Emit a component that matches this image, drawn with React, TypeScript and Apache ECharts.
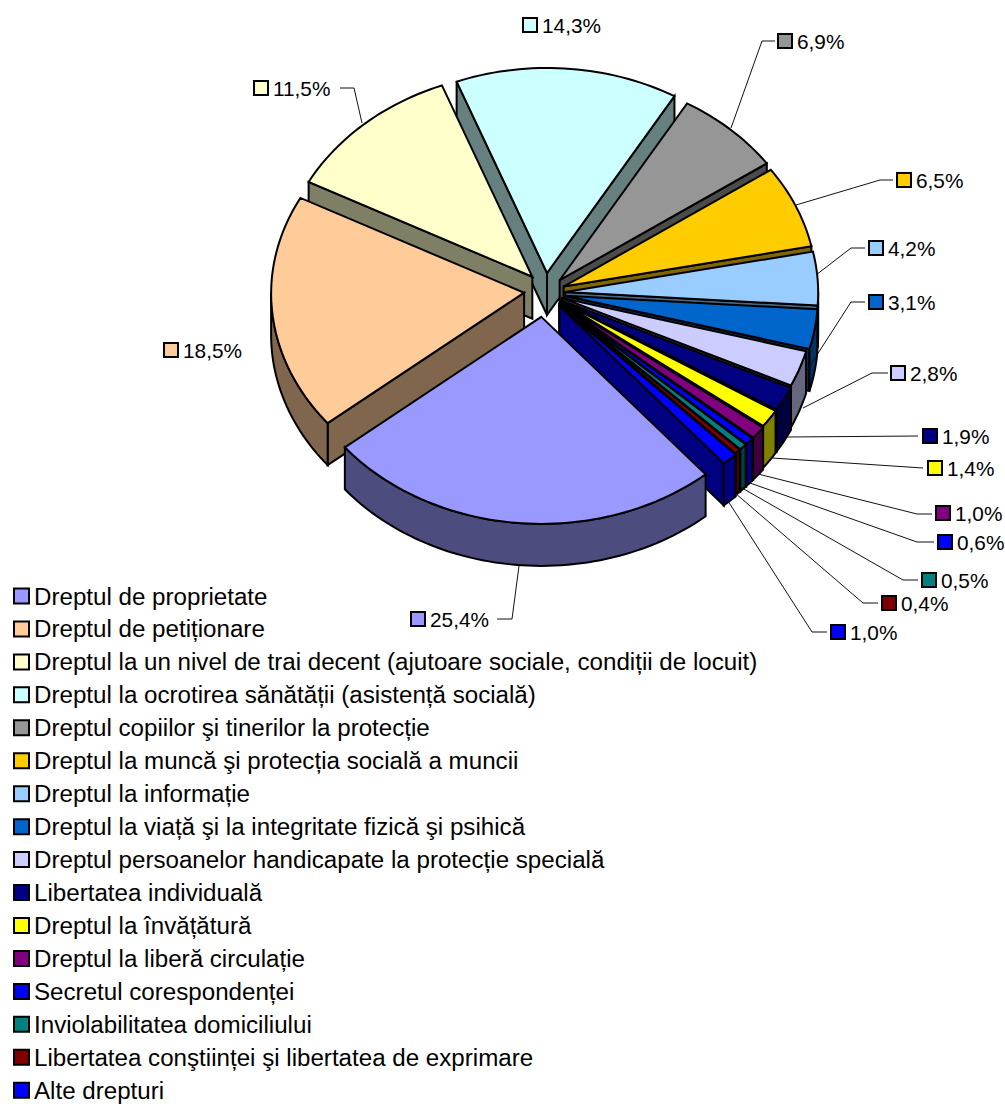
import React, { useEffect, useRef } from "react";
import * as echarts from "echarts";

// ---------- data ----------
const categories = [
  "Dreptul de proprietate",
  "Dreptul de petiționare",
  "Dreptul la un nivel de trai decent (ajutoare sociale, condiții de locuit)",
  "Dreptul la ocrotirea sănătății (asistență socială)",
  "Dreptul copiilor şi tinerilor la protecție",
  "Dreptul la muncă şi protecția socială a muncii",
  "Dreptul la informație",
  "Dreptul la viață şi la integritate fizică şi psihică",
  "Dreptul persoanelor handicapate la protecție specială",
  "Libertatea individuală",
  "Dreptul la învățătură",
  "Dreptul la liberă circulație",
  "Secretul corespondenței",
  "Inviolabilitatea domiciliului",
  "Libertatea conştiinței şi libertatea de exprimare",
  "Alte drepturi",
];
const values = [25.4, 18.5, 11.5, 14.3, 6.9, 6.5, 4.2, 3.1, 2.8, 1.9, 1.4, 1.0, 0.6, 0.5, 0.4, 1.0];

// ---------- styles ----------
const colors = [
  "#9999FF", "#FFCC99", "#FFFFCC", "#CCFFFF", "#969696", "#FFCC00", "#99CCFF", "#0066CC",
  "#CCCCFF", "#000080", "#FFFF00", "#800080", "#0000FF", "#008080", "#800000", "#0000FF",
];
const sideColors = [
  "#4C4C7F", "#7F664C", "#7F7F66", "#667F7F", "#4B4B4B", "#7F6600", "#4C667F", "#003366",
  "#66667F", "#000040", "#7F7F00", "#400040", "#000080", "#004040", "#400000", "#000080",
];

// ---------- pie geometry ----------
const CX = 545, CY = 293, RX = 253, RY_FAR = 205, RY_NEAR = 207, DEPTH = 42, START_ANGLE = 139.5;
const FAR_NARROWING = 0.006;
const explode = [0.117, 0.083, 0.09, 0.098, 0.085, 0.08, 0.08, 0.08, 0.07, 0.075, 0.075, 0.08, 0.08, 0.08, 0.08, 0.085];
const nudgeX = [-1, 0, 2.5, 0, 0, 0, 0, 0, 0, 0, 0, 0, 0, 0, 0, 0];
const nudgeY = [0, -2, -2.5, 0, 0, 0, 0, 0, 0, 0, 0, 0, 0, 0, 0, 0];
// paint order, back to front
const paintOrder = [3, 2, 1, 4, 5, 6, 7, 8, 9, 10, 11, 12, 13, 14, 15, 0];

const rad = (d: number) => (d * Math.PI) / 180;
const total = values.reduce((a, b) => a + b, 0);
const sweeps = values.map((v) => (v / total) * 360);
const starts = sweeps.map((_, i) => START_ANGLE + sweeps.slice(0, i).reduce((a, b) => a + b, 0));

function sliceGeometry(i: number) {
  const a0 = starts[i];
  const a1 = a0 + sweeps[i];
  const mid = (a0 + a1) / 2;
  const ax = CX + nudgeX[i] + explode[i] * RX * Math.sin(rad(mid));
  const ay = CY + nudgeY[i] - explode[i] * RY_FAR * Math.cos(rad(mid));
  const pt = (t: number, dz = 0): number[] => {
    const c = Math.cos(rad(t));
    const narrow = c > 0 ? 1 - FAR_NARROWING * c : 1;
    return [ax + RX * narrow * Math.sin(rad(t)), ay - (c > 0 ? RY_FAR : RY_NEAR) * c + dz];
  };
  return { a0, a1, ax, ay, pt };
}

function arcPoints(pt: (t: number, dz?: number) => number[], a: number, b: number, dz = 0) {
  const n = Math.max(2, Math.ceil((b - a) / 1.5));
  const out: number[][] = [];
  for (let k = 0; k <= n; k++) out.push(pt(a + ((b - a) * k) / n, dz));
  return out;
}

function renderSlice(i: number) {
  const { a0, a1, ax, ay, pt } = sliceGeometry(i);
  const line = { stroke: "#000", lineWidth: 2, lineJoin: "miter" as const };
  const side = { ...line, fill: sideColors[i] };
  const children: any[] = [];
  const norm = (t: number) => ((t % 360) + 360) % 360;
  const wall = (t: number) => ({
    type: "polygon",
    shape: { points: [[ax, ay], pt(t), pt(t, DEPTH), [ax, ay + DEPTH]] },
    style: side,
  });
  // radial wall facing the viewer
  if (norm(a0) > 180) children.push(wall(a0));
  if (norm(a1) < 180) children.push(wall(a1));
  // outer wall: the near half of the rim
  for (const shift of [0, 360]) {
    const lo = Math.max(a0, 90 + shift);
    const hi = Math.min(a1, 270 + shift);
    if (hi > lo) {
      children.push({
        type: "polygon",
        shape: { points: [...arcPoints(pt, lo, hi), ...arcPoints(pt, lo, hi, DEPTH).reverse()] },
        style: side,
      });
    }
  }
  // top face
  children.push({
    type: "polygon",
    shape: { points: [[ax, ay], ...arcPoints(pt, a0, a1)] },
    style: { ...line, fill: colors[i] },
  });
  return { type: "group", children };
}

// ---------- data-label layout: box x, box centre y, leader (rim → elbow → box) ----------
const labelBox = [
  [410, 619], [163, 350], [253, 88], [522, 25], [777, 41], [896, 180], [868, 248], [868, 302],
  [890, 373], [922, 436], [927, 468], [935, 513], [937, 542], [921, 580], [881, 603], [830, 632],
];
const leaders: number[][][] = [
  [[519, 566], [512, 619], [497, 619]],
  [],
  [[362, 123], [354, 88], [340, 88]],
  [],
  [[731, 128], [762, 41], [775, 41]],
  [[796, 205], [880, 180], [893, 180]],
  [[816, 275], [851, 248], [865, 248]],
  [[806, 372], [851, 302], [865, 302]],
  [[803, 408], [872, 373], [888, 373]],
  [[787, 437], [918, 436]],
  [[772, 458], [923, 468]],
  [[758, 474], [917, 514], [932, 514]],
  [[750, 483], [917, 542], [934, 542]],
  [[742, 488], [903, 580], [918, 580]],
  [[735, 493], [863, 603], [878, 603]],
  [[728, 501], [812, 632], [827, 632]],
];
const FONT = '"Liberation Sans", Arial, sans-serif';

function renderLabel(i: number) {
  const [bx, by] = labelBox[i];
  const children: any[] = [];
  if (leaders[i].length) {
    children.push({
      type: "polyline",
      shape: { points: leaders[i] },
      style: { stroke: "#111", lineWidth: 1, fill: "none" },
    });
  }
  children.push({
    type: "rect",
    shape: { x: bx + 1, y: by - 7, width: 14, height: 14 },
    style: { fill: colors[i], stroke: "#000", lineWidth: 2 },
  });
  children.push({
    type: "text",
    x: bx + 20,
    y: by,
    style: {
      text: values[i].toFixed(1).replace(".", ",") + "%",
      fill: "#000",
      font: `20.8px ${FONT}`,
      textVerticalAlign: "middle",
      verticalAlign: "middle",
    },
  });
  return { type: "group", children };
}

export default function App() {
  const ref = useRef<HTMLDivElement>(null);
  useEffect(() => {
    if (!ref.current) return;
    const chart = echarts.init(ref.current, undefined, { renderer: "svg" });
    const sliceSeries = categories.map((name, i) => ({
      type: "custom",
      name,
      coordinateSystem: "none",
      z: 2 + paintOrder.indexOf(i),
      silent: true,
      itemStyle: { color: colors[i] },
      data: [values[i]],
      renderItem: () => renderSlice(i),
    }));
    chart.setOption({
      animation: false,
      backgroundColor: "#fff",
      legend: {
        show: true,
        orient: "vertical",
        left: 13,
        top: 584,
        height: 700,
        padding: 0,
        icon: "rect",
        itemWidth: 15,
        itemHeight: 15,
        itemGap: 8.95,
        selectedMode: false,
        textStyle: { fontFamily: FONT, fontSize: 24.15, color: "#000", lineHeight: 23, height: 23 },
        data: categories.map((name, i) => ({
          name,
          itemStyle: { color: colors[i], borderColor: "#000", borderWidth: 2 },
        })),
      },
      series: [
        ...sliceSeries,
        {
          type: "custom",
          name: "Etichete",
          coordinateSystem: "none",
          z: 30,
          silent: true,
          data: values.map((v, i) => [i, v]),
          renderItem: (params: any) => renderLabel(params.dataIndex),
        },
      ],
    });
    return () => chart.dispose();
  }, []);
  return (
    <div
      ref={ref}
      style={{ position: "absolute", left: 0, top: 0, width: 1005, height: 1104 }}
    />
  );
}
